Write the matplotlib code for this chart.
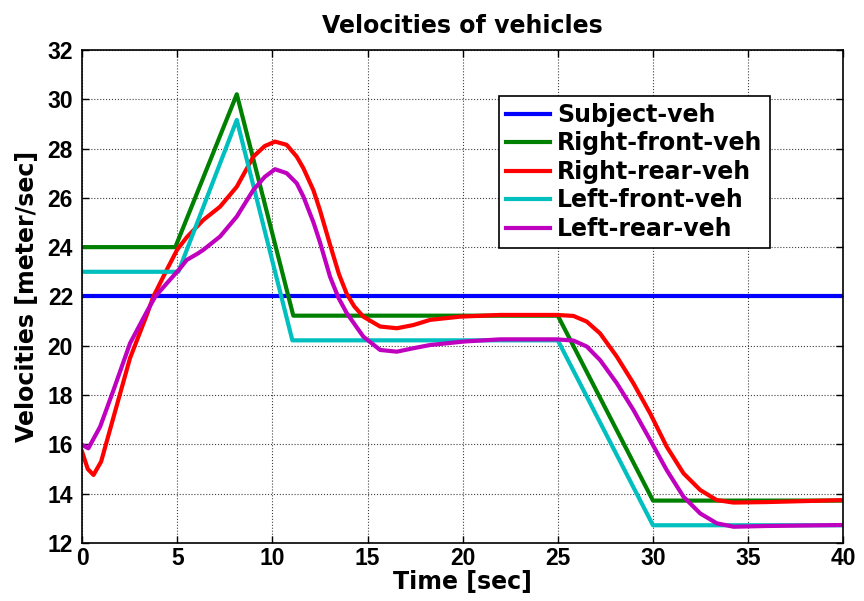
import matplotlib.pyplot as plt
import numpy as np

plt.close('all')

# values (time in sec, velocity in m/s)
t_subject = [0, 40]
v_subject = [22, 22]

t_rf = [0, 4.9, 8.13, 11.1, 25.0, 30.0, 40]
v_rf = [24, 24, 30.2, 21.22, 21.22, 13.72, 13.72]

t_lf = [0, 5.06, 8.13, 11.05, 25.0, 30.0, 40]
v_lf = [23, 23, 29.16, 20.22, 20.22, 12.72, 12.72]

t_rr = [0, 0.3, 0.6, 1.0, 1.65, 2.52, 3.4, 3.75, 4.45, 5.0, 5.5, 6.37, 7.25,
        8.13, 9.0, 9.6, 10.14, 10.75, 11.28, 11.63, 12.16, 12.5, 13.03, 13.5,
        13.91, 14.3, 14.78, 15.66, 16.54, 17.41, 18.29, 19.86, 21.97, 24.94,
        25.82, 26.52, 27.22, 28.1, 28.97, 29.85, 30.72, 31.6, 32.48, 33.35,
        34.23, 35.98, 40]
v_rr = [15.7, 15.0, 14.76, 15.3, 17.1, 19.5, 21.25, 22.0, 23.08, 23.9, 24.4,
        25.1, 25.64, 26.45, 27.67, 28.1, 28.28, 28.15, 27.67, 27.2, 26.3,
        25.5, 24.1, 22.9, 22.1, 21.6, 21.18, 20.78, 20.71, 20.84, 21.05, 21.18,
        21.25, 21.25, 21.21, 20.98, 20.5, 19.56, 18.48, 17.26, 15.91, 14.83,
        14.15, 13.74, 13.64, 13.66, 13.74]

t_lr = [0, 0.33, 0.95, 1.65, 2.52, 3.4, 3.85, 4.45, 5.15, 5.5, 6.1, 6.37, 7.25,
        8.13, 9.0, 9.6, 10.14, 10.75, 11.28, 11.63, 12.16, 12.5, 13.03, 13.47,
        13.91, 14.78, 15.66, 16.54, 17.41, 18.29, 20.04, 21.97, 24.94, 25.82,
        26.52, 27.22, 28.1, 28.97, 29.85, 30.72, 31.6, 32.48, 33.35, 34.23,
        35.98, 40]
v_lr = [15.98, 15.84, 16.72, 18.2, 20.1, 21.38, 22.0, 22.53, 23.14, 23.48,
        23.75, 23.89, 24.43, 25.24, 26.32, 26.85, 27.16, 27.0, 26.59, 26.05,
        25.0, 24.2, 22.8, 21.95, 21.32, 20.37, 19.83, 19.76, 19.9, 20.03,
        20.17, 20.26, 20.26, 20.21, 19.97, 19.42, 18.48, 17.4, 16.18, 14.96,
        13.88, 13.2, 12.8, 12.66, 12.69, 12.73]

labels = ['Subject-veh', 'Right-front-veh', 'Right-rear-veh',
          'Left-front-veh', 'Left-rear-veh']
colors = ['#0000ff', '#008000', '#ff0000', '#00bfbf', '#bf00bf']

plt.rcParams['font.family'] = ['DejaVu Sans']
plt.rcParams['font.weight'] = 'bold'

fig = plt.figure(figsize=(8.64, 6.01), dpi=100)
ax = fig.add_axes([0.095, 0.0965, 0.881, 0.8205])

series = [(t_subject, v_subject), (t_rf, v_rf), (t_rr, v_rr),
          (t_lf, v_lf), (t_lr, v_lr)]
for (t, v), lab, c in zip(series, labels, colors):
    ax.plot(t, v, color=c, lw=3, label=lab, solid_joinstyle='round')

ax.set_xlim(0, 40)
ax.set_ylim(12, 32)
ax.set_xticks(np.arange(0, 41, 5))
ax.set_yticks(np.arange(12, 33, 2))
ax.grid(True, linestyle=':', color='0.25', lw=0.8)
ax.tick_params(direction='in', top=True, right=True, length=5, width=1)
ax.tick_params(axis='x', pad=3)
ax.tick_params(axis='y', pad=6.5)
for lab in ax.get_xticklabels() + ax.get_yticklabels():
    lab.set_family(['Liberation Sans', 'DejaVu Sans'])
    lab.set_fontweight('bold')
    lab.set_fontsize(16.5)
for s in ax.spines.values():
    s.set_linewidth(1.2)

ax.set_xlabel('Time [sec]', fontsize=17, fontweight='bold', labelpad=0)
ax.set_ylabel('Velocities [meter/sec]', fontsize=17, fontweight='bold', labelpad=6)
ax.set_title('Velocities of vehicles', fontsize=17, fontweight='bold', pad=12)

leg = ax.legend(loc='upper left', bbox_to_anchor=(0.548, 0.907), fontsize=17,
                handlelength=1.85, handletextpad=0.3, labelspacing=0.19,
                borderpad=0.3, borderaxespad=0, fancybox=False, framealpha=1,
                edgecolor='black')
leg.get_frame().set_linewidth(1.2)

plt.savefig('out.png', dpi=100)
